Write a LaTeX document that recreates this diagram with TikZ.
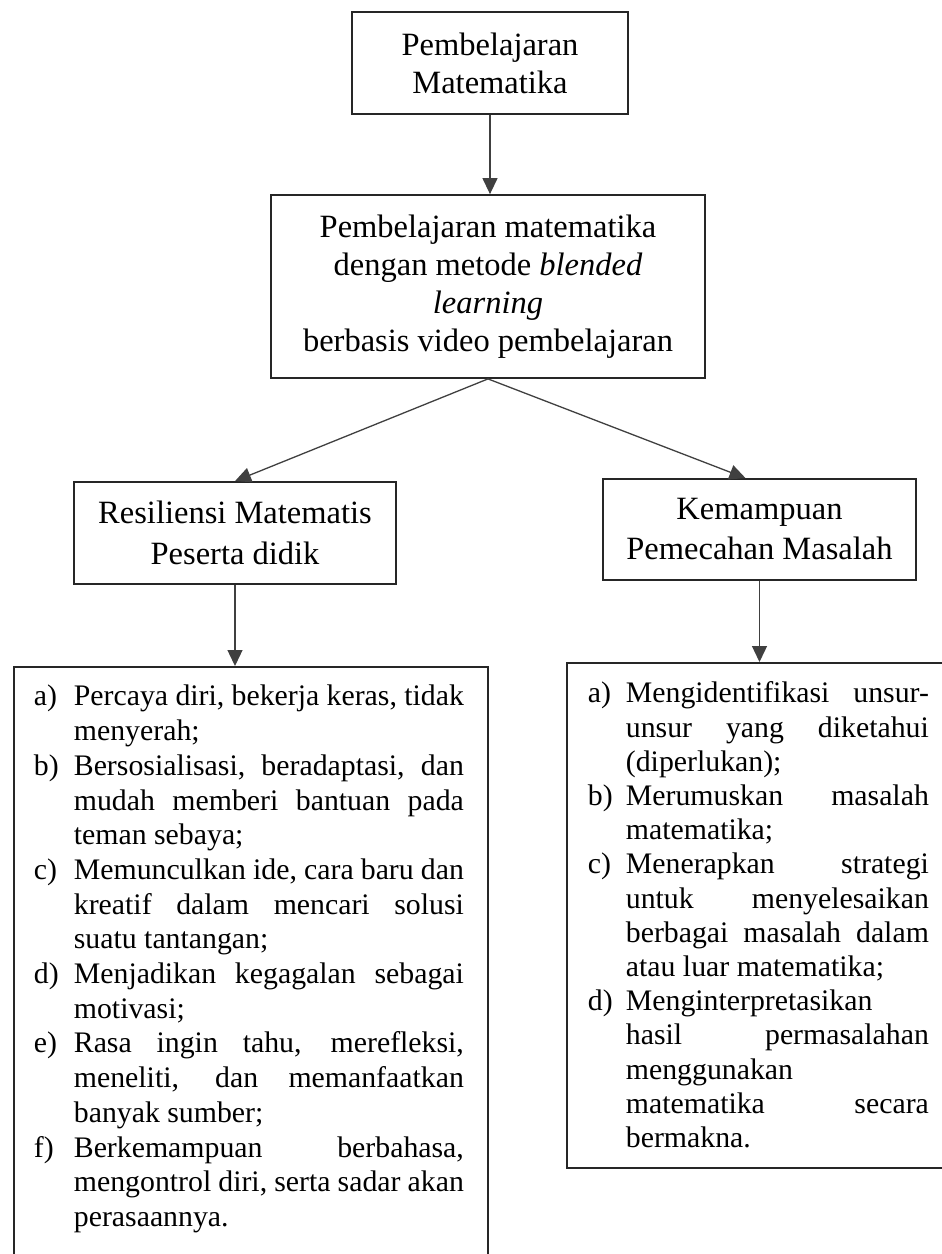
\documentclass[tikz,border=0pt]{standalone}
\usepackage{fontspec}
\setmainfont{Liberation Serif}
\usetikzlibrary{arrows.meta}
\newcommand{\strutx}{\rule[-9pt]{0pt}{34pt}}
\newcommand{\rowj}[2]{\hbox to \hsize{\hspace*{\indwid}\llap{\makebox[\labwid][l]{#1}}\makebox[\twid][s]{\strutx #2}\hfil}}
\newcommand{\rowl}[2]{\hbox to \hsize{\hspace*{\indwid}\llap{\makebox[\labwid][l]{#1}}\makebox[\twid][l]{\strutx #2}\hfil}}
\begin{document}
\begin{tikzpicture}[x=1pt,y={(0pt,-1pt)},
  box/.style={draw=black!85, line width=1.8pt, inner sep=0pt, align=center},
  headfont/.style={font=\fontsize{32.5}{38}\selectfont},
  listbox/.style={draw=black!85, line width=1.8pt, inner sep=0pt, anchor=north west, font=\fontsize{29.8}{34.3}\selectfont},
  arr/.style={draw=black!75, line width=1.3pt, -{Triangle[length=16pt,width=15pt]}}]
\useasboundingbox (0,0) rectangle (942,1254);
\clip (0,0) rectangle (942,1254);
\fill[white] (0,0) rectangle (942,1254);

\node[box, headfont, minimum width=276pt, minimum height=102pt] (top) at (490,63)
  {Pembelajaran\\Matematika};
\node[box, headfont, minimum width=434pt, minimum height=183pt] (mid) at (488,286.5)
  {Pembelajaran matematika\\dengan metode \textit{blended}\\\textit{learning}\\berbasis video pembelajaran};
\node[box, font=\fontsize{32.5}{41}\selectfont, minimum width=322pt, minimum height=102pt] (res) at (235,533)
  {Resiliensi Matematis\\Peserta didik};
\node[box, font=\fontsize{32.5}{40}\selectfont, minimum width=313pt, minimum height=101pt] (kem) at (759.5,529.5)
  {Kemampuan\\Pemecahan Masalah};

\node[listbox] (listL) at (13,666) {\parbox[t][650pt][t]{474pt}{%
  \def\indwid{60pt}\def\labwid{40pt}\def\twid{390pt}%
  \baselineskip=34.7pt\lineskip=0pt\lineskiplimit=-100pt
  \vspace*{14pt}
  \rowj{a)}{Percaya diri, bekerja keras, tidak}
  \rowl{}{menyerah;}
  \rowj{b)}{Bersosialisasi, beradaptasi, dan}
  \rowj{}{mudah memberi bantuan pada}
  \rowl{}{teman sebaya;}
  \rowj{c)}{Memunculkan ide, cara baru dan}
  \rowj{}{kreatif dalam mencari solusi}
  \rowl{}{suatu tantangan;}
  \rowj{d)}{Menjadikan kegagalan sebagai}
  \rowl{}{motivasi;}
  \rowj{e)}{Rasa ingin tahu, merefleksi,}
  \rowj{}{meneliti, dan memanfaatkan}
  \rowl{}{banyak sumber;}
  \rowj{f)}{Berkemampuan berbahasa,}
  \rowj{}{mengontrol diri, serta sadar akan}
  \rowl{}{perasaannya.}
}};

\node[listbox] (listR) at (566,662) {\parbox[t][505pt][t]{400pt}{%
  \def\indwid{59pt}\def\labwid{38pt}\def\twid{303pt}%
  \baselineskip=34.2pt\lineskip=0pt\lineskiplimit=-100pt
  \vspace*{15pt}
  \rowj{a)}{Mengidentifikasi unsur-}
  \rowj{}{unsur yang diketahui}
  \rowl{}{(diperlukan);}
  \rowj{b)}{Merumuskan masalah}
  \rowl{}{matematika;}
  \rowj{c)}{Menerapkan strategi}
  \rowj{}{untuk menyelesaikan}
  \rowj{}{berbagai masalah dalam}
  \rowl{}{atau luar matematika;}
  \rowl{d)}{Menginterpretasikan}
  \rowj{}{hasil permasalahan}
  \rowl{}{menggunakan}
  \rowj{}{matematika secara}
  \rowl{}{bermakna.}
}};

\draw[arr] (top.south) -- (top.south |- mid.north);
\draw[arr] (mid.south) -- (res.north);
\draw[arr] (mid.south) -- ([xshift=-14pt]kem.north);
\draw[arr] (res.south) -- (res.south |- listL.north);
\draw[arr] (kem.south) -- (kem.south |- listR.north);
\end{tikzpicture}
\end{document}
